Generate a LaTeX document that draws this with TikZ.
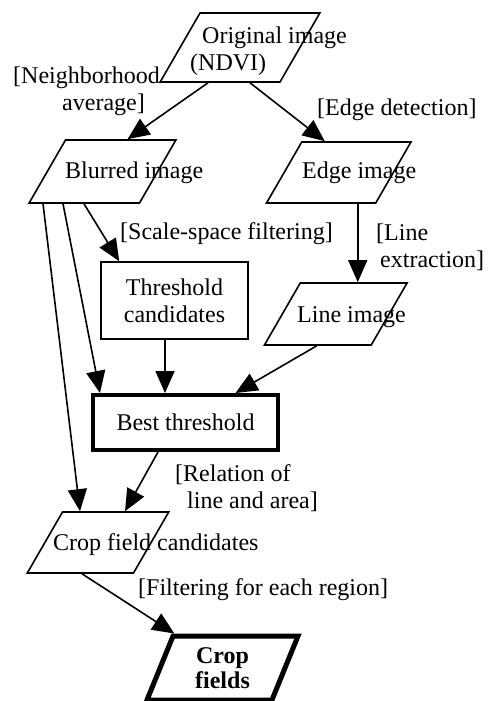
\documentclass[tikz,border=0pt]{standalone}
\usepackage{fontspec}
\setmainfont{Liberation Serif}
\usetikzlibrary{arrows.meta, shapes.geometric}

\begin{document}
\begin{tikzpicture}[x=1pt, y=-1pt,
  font=\fontsize{24}{27}\selectfont,
  io/.style 2 args={trapezium, trapezium left angle=60, trapezium right angle=120,
    draw=black, line width=1.6pt, inner sep=0pt,
    text width=#1, text height=#2, text depth=0pt},
  proc/.style={rectangle, draw=black, line width=1.6pt, inner sep=0pt},
  txt/.style={inner sep=0pt, anchor=west, align=left},
  flow/.style={line width=1.6pt, -{Triangle[length=22pt, width=19pt]}}]
  \useasboundingbox (0, 0) rectangle (488, 701);

  % data boxes
  \node[io={80pt}{69pt}] (orig) at (240, 47.5) {};
  \node[txt] (orig-txt) at (190, 51.5) {\hspace*{12pt}Original image\\(NDVI)};
  \node[io={74pt}{63pt}] (blur) at (102.5, 171.5) {};
  \node[txt] (blur-txt) at (65, 173) {Blurred image};
  \node[io={74pt}{61pt}] (edge) at (338.75, 172.5) {};
  \node[txt] (edge-txt) at (302, 173) {Edge image};
  \node[proc, minimum width=147pt, minimum height=77pt, align=center] (thr) at (174.5, 300.5) {Threshold\\candidates};
  \node[io={71pt}{62pt}] (line) at (335.75, 314) {};
  \node[txt] (line-txt) at (297, 317) {Line image};
  \node[proc, line width=4pt, minimum width=185pt, minimum height=55pt] (best) at (185.5, 422.5) {Best threshold};
  \node[io={71pt}{61pt}] (cand) at (98, 542.5) {};
  \node[txt] (cand-txt) at (53, 545) {Crop field candidates};
  \node[trapezium, trapezium left angle=60, trapezium right angle=120,
    trapezium stretches body=true, draw=black, line width=5pt, inner sep=2pt,
    minimum width=151pt, minimum height=64pt, align=center,
    font=\fontsize{24}{25}\selectfont\bfseries] (crop) at (222.5, 668) {Crop\\fields};

  % step labels
  \node[txt] (nbh) at (13, 91) {[Neighborhood\\\hspace*{49pt}average]};
  \node[txt] (edet) at (317, 110) {[Edge detection]};
  \node[txt] (ssf) at (120, 234) {[Scale-space filtering]};
  \node[txt] (lext) at (376, 247.5) {[Line\\\hspace*{4pt}extraction]};
  \node[txt] (rel) at (175, 488.5) {[Relation of\\\hspace*{12pt}line and area]};
  \node[txt] (filt) at (138, 590) {[Filtering for each region]};

  \draw[flow] ([xshift=-32pt]orig.south) -- ([xshift=25pt]blur.north);
  \draw[flow] ([xshift=10pt]orig.south) -- ([xshift=-14pt]edge.north);
  \draw[flow] ([xshift=-59.5pt]blur.south) -- ([xshift=-18pt]cand.north);
  \draw[flow] ([xshift=-39.5pt]blur.south) -- ([xshift=9pt]best.north west);
  \draw[flow] ([xshift=-18.5pt]blur.south) -- ([xshift=19pt]thr.north west);
  \draw[flow] ([xshift=-9.5pt]thr.south) -- ([xshift=-9.5pt]thr.south |- best.north);
  \draw[flow] ([xshift=19pt]edge.south) -- ([xshift=19pt]edge.south |- line.north);
  \draw[flow] ([xshift=-19pt]line.south) -- ([xshift=50pt]best.north);
  \draw[flow] ([xshift=-27.5pt]best.south) -- ([xshift=27pt]cand.north);
  \draw[flow] ([xshift=-16pt]cand.south) -- ([xshift=3pt]crop.top left corner);
\end{tikzpicture}
\end{document}
